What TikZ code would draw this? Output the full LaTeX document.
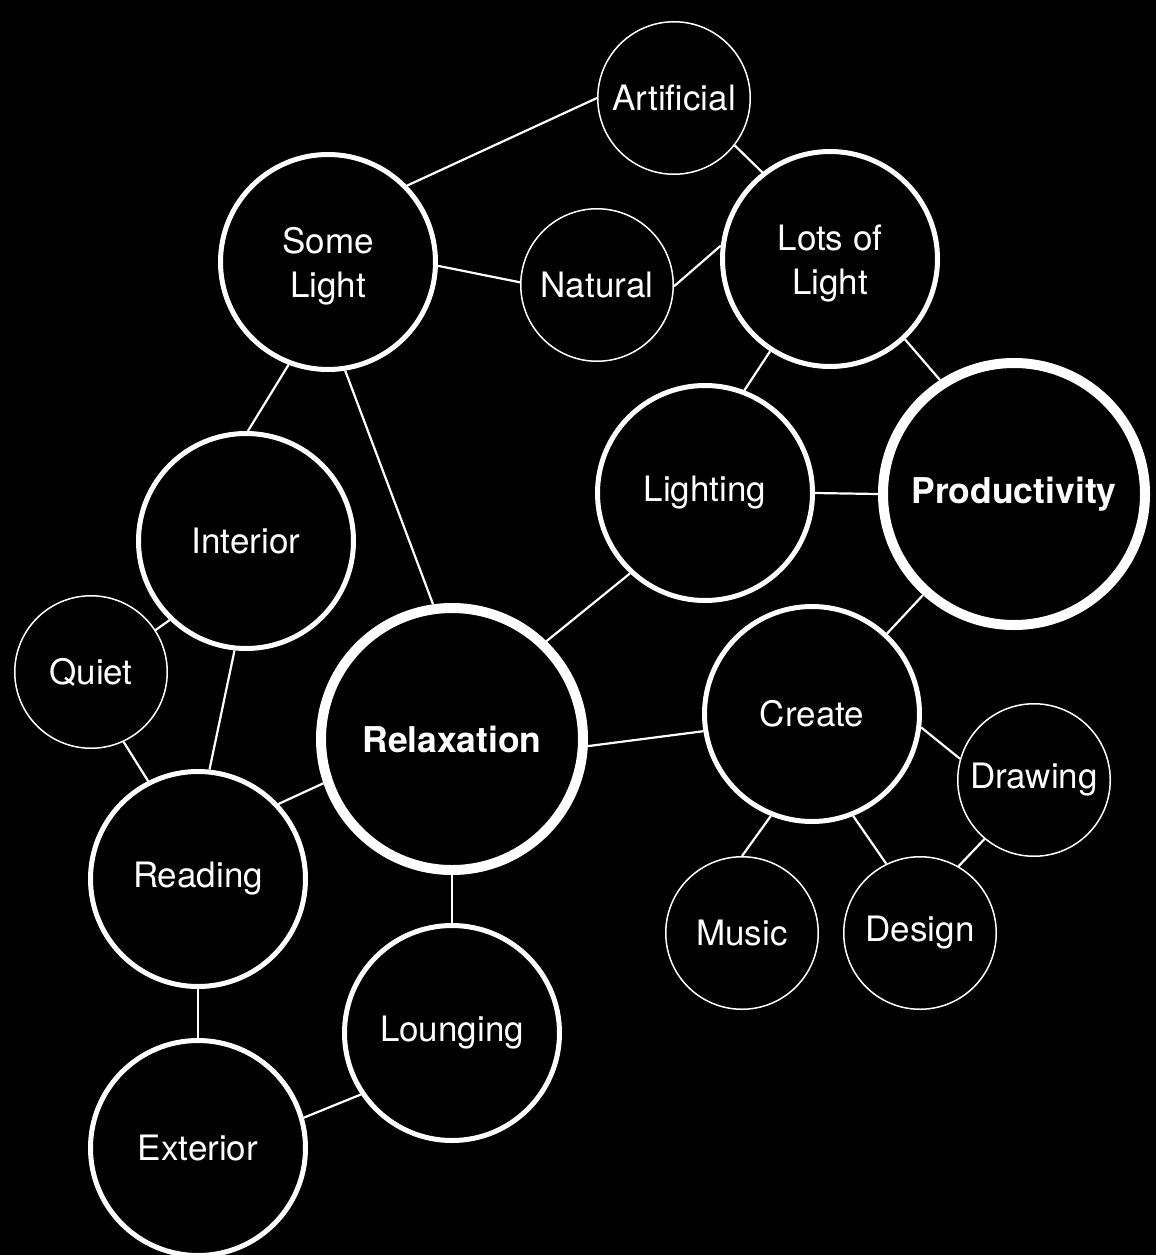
\documentclass[tikz,border=0pt]{standalone}
\usepackage{fontspec}
\setmainfont{TeX Gyre Heros}
\newcommand{\twolines}[2]{\raisebox{-35pt}[0pt][0pt]{\parbox[b]{150pt}{\centering #1\\#2}}}
\begin{document}
\begin{tikzpicture}[x=1pt,y=-1pt,
  bub/.style={circle, draw=white, fill=black, text=white, align=center, inner sep=0pt, font=\fontsize{35}{44}\selectfont},
  smallbub/.style={bub, line width=1.5pt, minimum size=152.5pt},
  midbub/.style={bub, line width=5pt, minimum size=215pt},
  bigbub/.style={bub, line width=10pt, minimum size=262pt, font=\fontsize{35.5}{44}\selectfont\bfseries},
  link/.style={draw=white, line width=2.2pt}
]
\fill[black] (0,0) rectangle (1156,1255);
\useasboundingbox (0,0) rectangle (1156,1255);

\node[smallbub] (art) at (674,98) {Artificial};
\node[midbub] (sl) at (328,262) {\twolines{Some}{Light}};
\node[smallbub] (nat) at (597,285) {Natural};
\node[midbub] (lol) at (830,259) {\twolines{Lots of}{Light}};
\node[midbub] (lig) at (705,493) {Lighting};
\node[bigbub] (prod) at (1014,494) {Productivity};
\node[midbub] (int) at (246,541) {Interior};
\node[smallbub] (quiet) at (91,672) {Quiet};
\node[bigbub] (relax) at (452,739) {Relaxation};
\node[midbub] (create) at (812,714) {Create};
\node[smallbub] (drw) at (1034,780) {Drawing};
\node[midbub] (read) at (198,879) {Reading};
\node[smallbub] (music) at (742,933) {Music};
\node[smallbub] (design) at (920,933) {Design};
\node[midbub] (loung) at (452,1033) {Lounging};
\node[midbub] (ext) at (198,1148) {Exterior};

\draw[link] (sl.44) -- (art.180);
\draw[link] (art.-38) -- (lol.128);
\draw[link] (sl.-2) -- (nat.178);
\draw[link] (nat.-1) -- (lol.173);
\draw[link] (lol.237) -- (lig.69);
\draw[link] (lol.-47) -- (prod.123);
\draw[link] (lig.0) -- (prod.180);
\draw[link] (lig.227) -- (relax.46);
\draw[link] (sl.-81) -- (relax.98);
\draw[link] (sl.-111) -- (int.89);
\draw[link] (int.226) -- (quiet.33);
\draw[link] (int.-96) -- (read.84);
\draw[link] (quiet.-65) -- (read.117);
\draw[link] (read.43) -- (relax.199);
\draw[link] (relax.270) -- (loung.90);
\draw[link] (read.270) -- (ext.90);
\draw[link] (ext.16) -- (loung.214);
\draw[link] (relax.-3) -- (create.189);
\draw[link] (prod.228) -- (create.47);
\draw[link] (create.-7) -- (drw.164);
\draw[link] (create.-112) -- (music.90);
\draw[link] (create.-68) -- (design.116);
\draw[link] (drw.230) -- (design.60);
\end{tikzpicture}
\end{document}
